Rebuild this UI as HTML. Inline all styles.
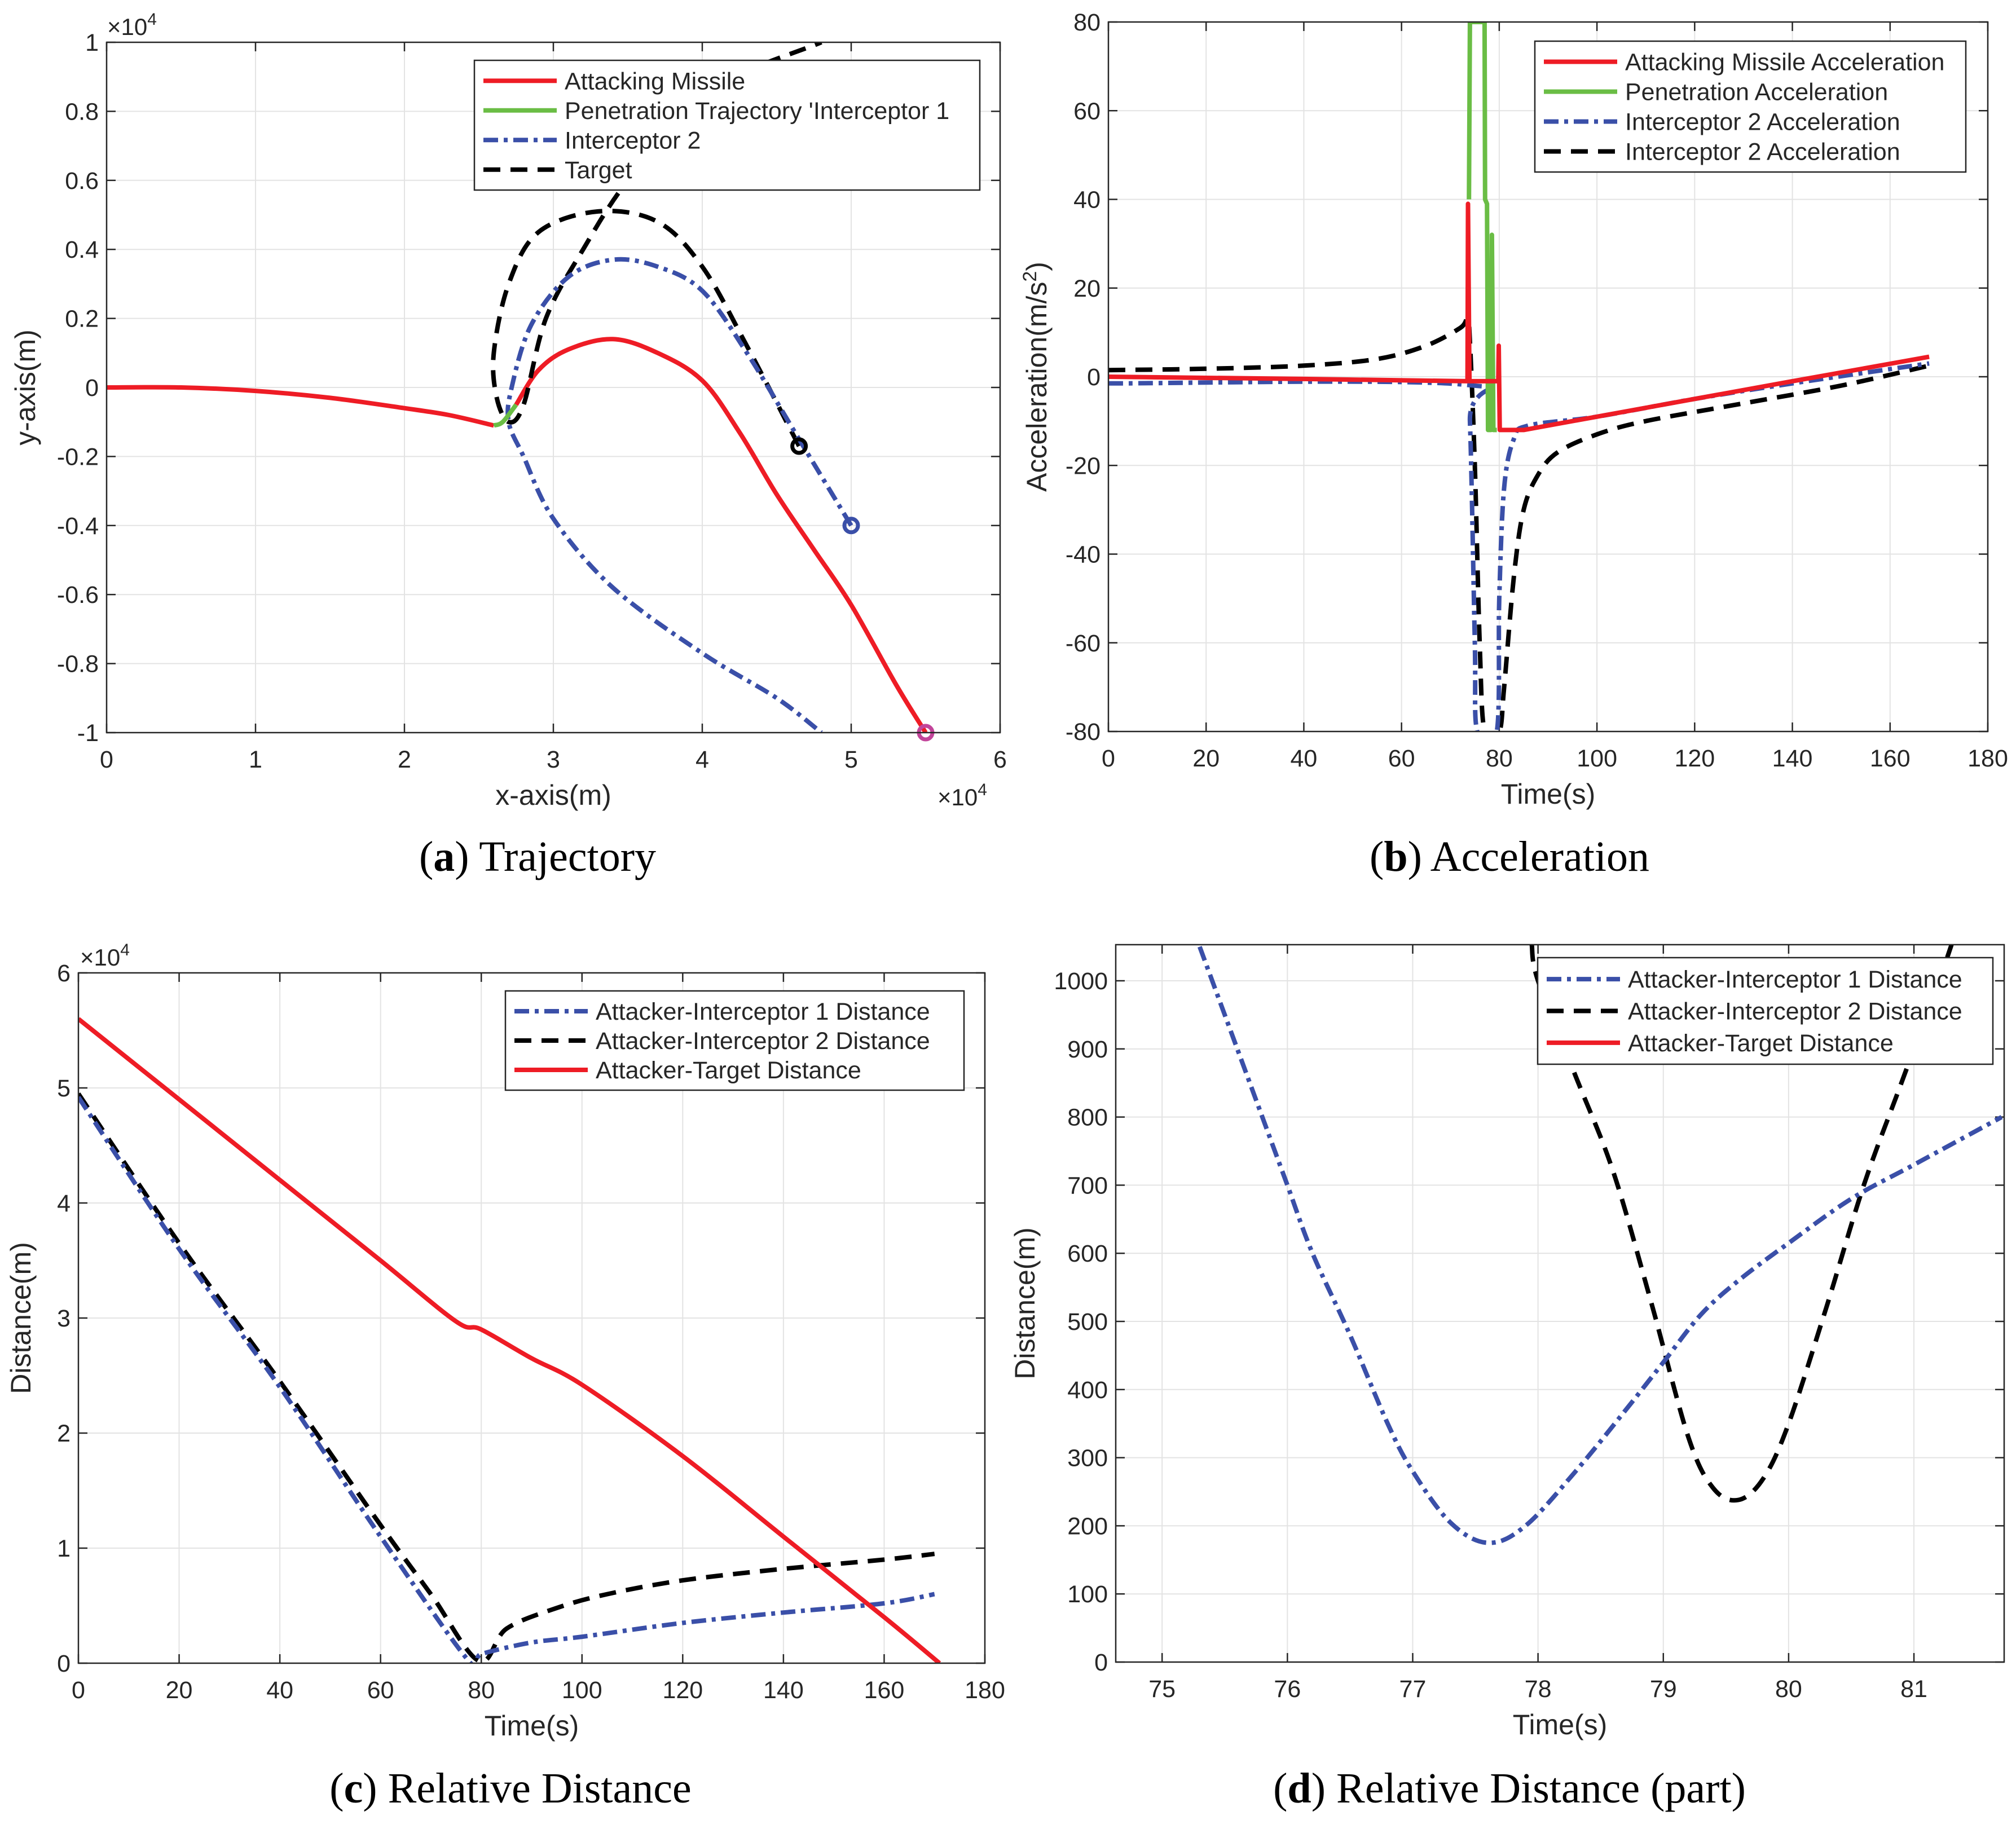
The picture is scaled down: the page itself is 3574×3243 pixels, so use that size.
<!DOCTYPE html>
<html><head><meta charset="utf-8"><style>
html,body{margin:0;padding:0;background:#fff}
svg{display:block}
text{font-family:"Liberation Sans",sans-serif;fill:#262626}
.cap{font-family:"Liberation Serif",serif;fill:#000}
</style></head><body>
<svg id="fig" xmlns="http://www.w3.org/2000/svg" width="3574" height="3243" viewBox="0 0 3574 3243"></svg>
<script>
// ---------- Panel (a) data (x and y in units of 1e4 m) ----------
const aRedX1=[0,0.5,1,1.5,2,2.3,2.6];
const aRedY1=[0,0,-0.01,-0.03,-0.06,-0.08,-0.11];
const aGreenX=[2.6,2.66,2.75];
const aGreenY=[-0.11,-0.1,-0.05];
const aRedX2=[2.75,2.9,3.1,3.4,3.7,4.0,4.25,4.5,4.75,5.0,5.3,5.5];
const aRedY2=[-0.05,0.05,0.11,0.14,0.1,0.02,-0.13,-0.31,-0.47,-0.63,-0.86,-1.0];
const aBlueX=[5.0,4.65,4.3,4.0,3.7,3.4,3.1,2.85,2.72,2.7,2.8,3.0,3.4,4.0,4.5,4.8];
const aBlueY=[-0.4,-0.15,0.1,0.28,0.35,0.37,0.32,0.18,0.0,-0.1,-0.2,-0.38,-0.58,-0.77,-0.9,-1.0];
const aBlackX=[4.65,4.3,4.0,3.7,3.3,2.9,2.7,2.6,2.62,2.7,2.8,2.95,3.2,3.5,4.0,4.8];
const aBlackY=[-0.17,0.12,0.35,0.48,0.51,0.45,0.3,0.1,-0.03,-0.1,-0.05,0.2,0.4,0.6,0.85,1.0];
const aXTicks=[0,1,2,3,4,5,6];
const aYTicks=[-1,-0.8,-0.6,-0.4,-0.2,0,0.2,0.4,0.6,0.8,1];
const aYTickLabels=["-1","-0.8","-0.6","-0.4","-0.2","0","0.2","0.4","0.6","0.8","1"];
// ---------- Panel (b) data ----------
const bRedT=[0,40,73.5,73.6,73.9,79.8,79.9,80.1,85,100,120,140,168];
const bRedA=[0,-0.5,-1,39,-1,-1,7,-12,-12,-9,-5,-1,4.5];
const bGreenT=[73.8,74,77,77.1,77.5,77.7,78.3,78.5,78.8,79.5];
const bGreenA=[40,80,80,40,39,-12,-12,32,-12,-12];
const bBlueT=[0,73,74,75,75.5,79.5,80,81,83,86,100,120,140,168];
const bBlueA=[-1.5,-1.8,-10,-60,-80,-80,-50,-25,-14,-11,-9,-5,-1.5,3];
const bBlackT=[0,20,40,55,65,72,73.5,74,75,76,77,80,81,83,85,88,92,100,110,130,150,168];
const bBlackA=[1.5,1.8,2.5,4,7,11,13,8,-20,-60,-80,-80,-70,-45,-30,-22,-17,-13,-10,-6,-2,2.5];
const bXTicks=[0,20,40,60,80,100,120,140,160,180];
const bYTicks=[-80,-60,-40,-20,0,20,40,60,80];
// ---------- Panel (c) data (distance in 1e4 m) ----------
const cRedT=[0,20,40,60,75,80,90,100,120,140,160,171];
const cRedD=[5.6,4.9,4.2,3.5,2.97,2.9,2.65,2.42,1.8,1.1,0.4,0];
const cBlueT=[0,20,40,60,77.5,80,90,100,120,140,160,170];
const cBlueD=[4.92,3.6,2.4,1.1,0.02,0.08,0.18,0.23,0.35,0.44,0.52,0.6];
const cBlackT=[0,20,40,60,70,79.5,85,95,105,120,140,160,170];
const cBlackD=[4.95,3.65,2.45,1.2,0.6,0.02,0.3,0.48,0.6,0.72,0.82,0.9,0.95];
const cXTicks=[0,20,40,60,80,100,120,140,160,180];
const cYTicks=[0,1,2,3,4,5,6];
// ---------- Panel (d) data ----------
const dBlueT=[75.3,75.6,75.8,76,76.2,76.5,76.8,77,77.3,77.6,77.9,78.3,78.7,79,79.3,79.6,80,80.5,81,81.7];
const dBlueD=[1050,900,800,700,600,480,350,280,205,175,200,280,370,440,510,560,615,680,730,800];
const dBlackT=[77.95,78.0,78.3,78.6,78.9,79.2,79.4,79.6,79.8,80.0,80.3,80.6,80.9,81.2,81.3];
const dBlackD=[1053,1000,860,720,530,330,255,238,270,350,520,700,850,1000,1053];
const dXTicks=[75,76,77,78,79,80,81];
const dYTicks=[0,100,200,300,400,500,600,700,800,900,1000];

const NS="http://www.w3.org/2000/svg";
const svg=document.getElementById('fig');
function mk(tag,attrs,parent){const e=document.createElementNS(NS,tag);for(const k in attrs)e.setAttribute(k,attrs[k]);(parent||svg).appendChild(e);return e;}
function txt(s,x,y,size,anchor,parent,cls){const t=mk('text',{x:x,y:y,'font-size':size,'text-anchor':anchor||'start'},parent);if(cls)t.setAttribute('class',cls);t.textContent=s;return t;}

const RED='#ee1c25',GREEN='#6abd45',BLUE='#3a4fa8',BLACK='#000';
const DASH='30,18',DASHDOT='26,10,7,10';

function pathD(pts,smooth){
  if(!smooth||pts.length<3)return pts.map((p,i)=>(i?'L':'M')+p[0].toFixed(1)+','+p[1].toFixed(1)).join('');
  let d='M'+pts[0][0].toFixed(1)+','+pts[0][1].toFixed(1);
  for(let i=0;i<pts.length-1;i++){
    const p0=pts[i-1]||pts[i],p1=pts[i],p2=pts[i+1],p3=pts[i+2]||p2;
    const c1=[p1[0]+(p2[0]-p0[0])/6,p1[1]+(p2[1]-p0[1])/6];
    const c2=[p2[0]-(p3[0]-p1[0])/6,p2[1]-(p3[1]-p1[1])/6];
    d+='C'+c1[0].toFixed(1)+','+c1[1].toFixed(1)+' '+c2[0].toFixed(1)+','+c2[1].toFixed(1)+' '+p2[0].toFixed(1)+','+p2[1].toFixed(1);
  }
  return d;
}

function panel(cfg){
  const g=mk('g',{});
  
  
  const L=cfg.L,R=cfg.R,T=cfg.T,B=cfg.B;
  const sx=v=>L+(v-cfg.x0)/(cfg.x1-cfg.x0)*(R-L);
  const sy=v=>B-(v-cfg.y0)/(cfg.y1-cfg.y0)*(B-T);
  const clipId='clip'+cfg.name;
  const cp=mk('clipPath',{id:clipId},g);mk('rect',{x:L,y:T,width:R-L,height:B-T},cp);
  const grid=mk('g',{},g);
  
  
  cfg.xt.forEach((v,i)=>{const x=sx(v);
    mk('line',{x1:x,y1:T,x2:x,y2:B,stroke:'#e3e3e3','stroke-width':2},grid);
    mk('line',{x1:x,y1:B,x2:x,y2:B-16,stroke:'#262626','stroke-width':2.5},grid);
    mk('line',{x1:x,y1:T,x2:x,y2:T+16,stroke:'#262626','stroke-width':2.5},grid);
    const t=txt(cfg.xl?cfg.xl[i]:String(v),x,B+62,43,'middle',g);
    
    
  });
  cfg.yt.forEach((v,i)=>{const y=sy(v);
    mk('line',{x1:L,y1:y,x2:R,y2:y,stroke:'#e3e3e3','stroke-width':2},grid);
    mk('line',{x1:L,y1:y,x2:L+16,y2:y,stroke:'#262626','stroke-width':2.5},grid);
    mk('line',{x1:R,y1:y,x2:R-16,y2:y,stroke:'#262626','stroke-width':2.5},grid);
    const t=txt(cfg.yl?cfg.yl[i]:String(v),L-14,y+15,43,'end',g);
    
    
  });
  const plot=mk('g',{'clip-path':'url(#'+clipId+')'},g);
  cfg.series.forEach(s=>{
    const pts=s.x.map((v,i)=>[sx(v),sy(s.y[i])]);
    const p=mk('path',{d:pathD(pts,s.smooth),fill:'none',stroke:s.c,'stroke-width':8,'stroke-linejoin':'round'},plot);
    if(s.dash)p.setAttribute('stroke-dasharray',s.dash);
    
    
  });
  (cfg.markers||[]).forEach(m=>{
    const c=mk('circle',{cx:sx(m.x),cy:sy(m.y),r:12,fill:'none',stroke:m.c,'stroke-width':7},g);
    
    
  });
  const box=mk('rect',{x:L,y:T,width:R-L,height:B-T,fill:'none',stroke:'#262626','stroke-width':2.5},g);
  
  
  const xt=txt(cfg.xTitle,(L+R)/2,B+128,50,'middle',g);
  
  
  const yt=txt(cfg.yTitle,0,0,50,'middle',g);
  yt.setAttribute('transform','translate('+cfg.yTitleX+','+(T+B)/2+') rotate(-90)');
  
  
  if(cfg.yTitleSup){const ts=mk('tspan',{dy:-18,'font-size':34},yt);ts.textContent='2';const ts2=mk('tspan',{dy:18},yt);ts2.textContent=')';}
  (cfg.exps||[]).forEach(e=>{
    const t=mk('text',{x:e.x,y:e.y,'font-size':42},g);
    t.textContent='\u00d710';
    const s=mk('tspan',{dy:-18,'font-size':30},t);s.textContent='4';
    
    
  });
  const lg=mk('g',{},g);
  
  
  const lb=cfg.leg;
  mk('rect',{x:lb.x,y:lb.y,width:lb.w,height:lb.h,fill:'#fff',stroke:'#262626','stroke-width':2.5},lg);
  const step=(lb.h-20)/lb.items.length;
  lb.items.forEach((it,i)=>{
    const ent=mk('g',{},lg);
    
    
    const y=lb.y+10+step*(i+0.5);
    const ln=mk('line',{x1:lb.x+16,y1:y,x2:lb.x+146,y2:y,stroke:it.c,'stroke-width':8},ent);
    if(it.dash)ln.setAttribute('stroke-dasharray',it.dash);
    txt(it.t,lb.x+160,y+15,43,'start',ent);
  });
  const cap=mk('text',{x:cfg.capX,y:cfg.capY,'font-size':76,'text-anchor':'middle','class':'cap'},g);
  cap.textContent='(';
  const bb=mk('tspan',{'font-weight':'bold'},cap);bb.textContent=cfg.capL;
  const rest=mk('tspan',{},cap);rest.textContent=') '+cfg.capT;
  
  
}

panel({name:'trajectory-panel',L:189,R:1773,T:75,B:1299,x0:0,x1:6,y0:-1,y1:1,xt:aXTicks,yt:aYTicks,yl:aYTickLabels,
  xTitle:'x-axis(m)',yTitle:'y-axis(m)',yTitleX:62,
  exps:[{x:190,y:62},{x:1662,y:1428}],
  series:[
    {id:'attacking-missile-line-1',x:aRedX1,y:aRedY1,c:RED,smooth:true},
    {id:'attacking-missile-line-2',x:aRedX2,y:aRedY2,c:RED,smooth:true},
    {id:'target-line',x:aBlackX,y:aBlackY,c:BLACK,dash:DASH,smooth:true},
    {id:'interceptor-2-line',x:aBlueX,y:aBlueY,c:BLUE,dash:DASHDOT,smooth:true},
    {id:'penetration-line',x:aGreenX,y:aGreenY,c:GREEN,smooth:true}],
  markers:[{id:'target-end-marker',x:aBlackX[0],y:aBlackY[0],c:BLACK},{id:'interceptor-2-end-marker',x:aBlueX[0],y:aBlueY[0],c:BLUE},{id:'missile-end-marker',x:aRedX2[aRedX2.length-1],y:aRedY2[aRedY2.length-1],c:'#c2449a'}],
  leg:{x:841,y:107,w:896,h:230,items:[{t:'Attacking Missile',c:RED},{t:"Penetration Trajectory 'Interceptor 1",c:GREEN},{t:'Interceptor 2',c:BLUE,dash:DASHDOT},{t:'Target',c:BLACK,dash:DASH}]},
  capX:953,capY:1544,capL:'a',capT:'Trajectory'});

panel({name:'acceleration-panel',L:1965,R:3524,T:39,B:1297,x0:0,x1:180,y0:-80,y1:80,xt:bXTicks,yt:bYTicks,
  xTitle:'Time(s)',yTitle:'Acceleration(m/s',yTitleSup:true,yTitleX:1855,
  series:[
    {id:'interceptor-1-accel-line',x:bBlackT,y:bBlackA,c:BLACK,dash:DASH,smooth:true},
    {id:'interceptor-2-accel-line',x:bBlueT,y:bBlueA,c:BLUE,dash:DASHDOT,smooth:true},
    {id:'penetration-accel-line',x:bGreenT,y:bGreenA,c:GREEN},
    {id:'attacking-missile-accel-line',x:bRedT,y:bRedA,c:RED}],
  leg:{x:2721,y:73,w:764,h:232,items:[{t:'Attacking Missile Acceleration',c:RED},{t:'Penetration Acceleration',c:GREEN},{t:'Interceptor 2 Acceleration',c:BLUE,dash:DASHDOT},{t:'Interceptor 2 Acceleration',c:BLACK,dash:DASH}]},
  capX:2676,capY:1544,capL:'b',capT:'Acceleration'});

panel({name:'relative-distance-panel',L:139,R:1746,T:1725,B:2949,x0:0,x1:180,y0:0,y1:6,xt:cXTicks,yt:cYTicks,
  xTitle:'Time(s)',yTitle:'Distance(m)',yTitleX:54,
  exps:[{x:142,y:1712}],
  series:[
    {id:'attacker-interceptor-2-line',x:cBlackT,y:cBlackD,c:BLACK,dash:DASH,smooth:true},
    {id:'attacker-interceptor-1-line',x:cBlueT,y:cBlueD,c:BLUE,dash:DASHDOT,smooth:true},
    {id:'attacker-target-line',x:cRedT,y:cRedD,c:RED,smooth:true}],
  leg:{x:896,y:1757,w:813,h:176,items:[{t:'Attacker-Interceptor 1 Distance',c:BLUE,dash:DASHDOT},{t:'Attacker-Interceptor 2 Distance',c:BLACK,dash:DASH},{t:'Attacker-Target Distance',c:RED}]},
  capX:905,capY:3196,capL:'c',capT:'Relative Distance'});

panel({name:'relative-distance-part-panel',L:1978,R:3553,T:1675,B:2947,x0:74.63,x1:81.72,y0:0,y1:1053,xt:dXTicks,yt:dYTicks,
  xTitle:'Time(s)',yTitle:'Distance(m)',yTitleX:1834,
  series:[
    {id:'attacker-interceptor-2-line',x:dBlackT,y:dBlackD,c:BLACK,dash:DASH,smooth:true},
    {id:'attacker-interceptor-1-line',x:dBlueT,y:dBlueD,c:BLUE,dash:DASHDOT,smooth:true}],
  leg:{x:2726,y:1698,w:807,h:189,items:[{t:'Attacker-Interceptor 1 Distance',c:BLUE,dash:DASHDOT},{t:'Attacker-Interceptor 2 Distance',c:BLACK,dash:DASH},{t:'Attacker-Target Distance',c:RED}]},
  capX:2676,capY:3196,capL:'d',capT:'Relative Distance (part)'});
</script>
</body></html>
